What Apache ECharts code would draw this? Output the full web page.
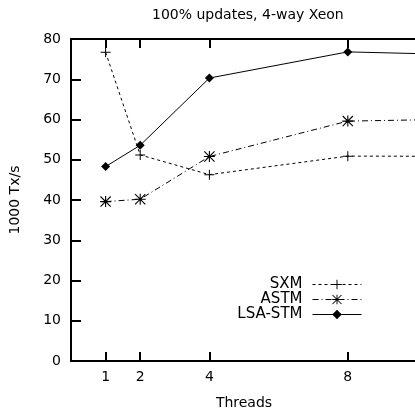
<!DOCTYPE html>
<html>
<head>
<meta charset="utf-8">
<script src="https://cdn.jsdelivr.net/npm/echarts@6/dist/echarts.min.js"></script>
<style>html,body{margin:0;padding:0;background:#fff}#c{width:415px;height:409px}</style>
</head>
<body>
<div id="c"></div>
<script>
const threads = [1, 2, 4, 8, 16];
const xTicks = [1, 2, 4, 8];
const sxm = [76.7, 51.2, 46.3, 50.9, 50.8];
const astm = [39.6, 40.2, 50.8, 59.6, 60.8];
const lsa = [48.3, 53.6, 70.3, 76.8, 75.1];
const seriesNames = ['SXM', 'ASTM', 'LSA-STM'];
const titleText = '100% updates, 4-way Xeon';
const xName = 'Threads';
const yName = '1000 Tx/s';

const FONT = 'DejaVu Sans';
const plusPath = 'path://M45,0 L55,0 L55,45 L100,45 L100,55 L55,55 L55,100 L45,100 L45,55 L0,55 L0,45 L45,45 Z';
const starPath = 'path://M45,0 L55,0 L55,45 L100,45 L100,55 L55,55 L55,100 L45,100 L45,55 L0,55 L0,45 L45,45 Z M7,0 L100,93 L93,100 L0,7 Z M93,0 L100,7 L7,100 L0,93 Z';

function pairs(ys) { return threads.map((t, i) => [t, ys[i]]); }

const axisLine = { show: true, onZero: false, lineStyle: { color: '#000', width: 2 } };
const chart = echarts.init(document.getElementById('c'), null, { renderer: 'canvas' });
chart.setOption({
  animation: false,
  backgroundColor: '#fff',
  title: {
    text: titleText, left: 147, top: 3,
    textStyle: { fontFamily: FONT, fontSize: 14, fontWeight: 'normal', color: '#000' }
  },
  grid: { left: 71, top: 39, right: -2, bottom: 48, containLabel: false, outerBoundsMode: 'none' },
  legend: {
    orient: 'vertical', right: 48, top: 272, align: 'right',
    itemWidth: 49, itemHeight: 12, itemGap: 0,
    data: seriesNames,
    lineStyle: { width: 1 },
    textStyle: { fontFamily: FONT, fontSize: 15, color: '#000', lineHeight: 14, padding: [0, 5, 0, 0] }
  },
  xAxis: [{
    type: 'value', min: 0, max: 10, position: 'bottom',
    name: xName, nameLocation: 'middle', nameGap: 35,
    nameTextStyle: { fontFamily: FONT, fontSize: 14, color: '#000' },
    axisLine: axisLine,
    axisTick: { show: true, inside: true, length: 9, customValues: xTicks, lineStyle: { color: '#000', width: 2 } },
    axisLabel: { show: true, customValues: xTicks, margin: 9, fontFamily: FONT, fontSize: 14, color: '#000' },
    splitLine: { show: false }
  }, {
    type: 'value', min: 0, max: 10, position: 'top',
    axisLine: axisLine,
    axisTick: { show: true, inside: true, length: 9, customValues: xTicks, lineStyle: { color: '#000', width: 2 } },
    axisLabel: { show: false },
    splitLine: { show: false }
  }],
  yAxis: {
    type: 'value', min: 0, max: 80, interval: 10,
    name: yName, nameLocation: 'middle', nameGap: 49, nameRotate: 90,
    nameTextStyle: { fontFamily: FONT, fontSize: 14, color: '#000' },
    axisLine: axisLine,
    axisTick: { show: true, inside: true, length: 10, lineStyle: { color: '#000', width: 2 } },
    axisLabel: { margin: 10, fontFamily: FONT, fontSize: 14, color: '#000' },
    splitLine: { show: false }
  },
  series: [{
    name: seriesNames[0], type: 'line', data: pairs(sxm), clip: true,
    symbol: plusPath, symbolSize: 10,
    itemStyle: { color: '#000' },
    lineStyle: { color: '#000', width: 1, type: [3, 3] }
  }, {
    name: seriesNames[1], type: 'line', data: pairs(astm), clip: true,
    symbol: starPath, symbolSize: 11,
    itemStyle: { color: '#000' },
    lineStyle: { color: '#000', width: 1, type: [6, 3, 1, 3] }
  }, {
    name: seriesNames[2], type: 'line', data: pairs(lsa), clip: true,
    symbol: 'diamond', symbolSize: 9,
    itemStyle: { color: '#000' },
    lineStyle: { color: '#000', width: 1, type: 'solid' }
  }]
});
</script>
</body>
</html>
